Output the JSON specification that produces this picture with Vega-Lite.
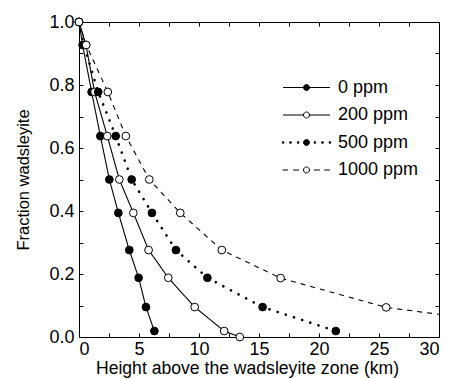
{
  "$schema": "https://vega.github.io/schema/vega-lite/v6.json",
  "width": 360,
  "height": 315,
  "autosize": {"type": "none"},
  "padding": {"left": 79, "top": 22, "right": 10, "bottom": 42},
  "background": "white",
  "config": {
    "view": {"stroke": "black", "strokeWidth": 1},
    "font": "Liberation Sans",
    "axis": {
      "grid": false,
      "domainColor": "black",
      "tickColor": "black",
      "labelColor": "black",
      "titleColor": "black",
      "labelFont": "Liberation Sans",
      "titleFont": "Liberation Sans",
      "labelFontSize": 18,
      "titleFontSize": 17.6,
      "titleFontWeight": "normal",
      "tickSize": -4,
      "tickWidth": 1,
      "domainWidth": 1
    }
  },
  "data": {
    "values": [
      {"series": "0 ppm", "x": 0, "y": 1.0},
      {"series": "0 ppm", "x": 0.3, "y": 0.927},
      {"series": "0 ppm", "x": 1.05, "y": 0.778},
      {"series": "0 ppm", "x": 1.78, "y": 0.638},
      {"series": "0 ppm", "x": 2.53, "y": 0.5},
      {"series": "0 ppm", "x": 3.28, "y": 0.394},
      {"series": "0 ppm", "x": 4.19, "y": 0.276},
      {"series": "0 ppm", "x": 4.97, "y": 0.188},
      {"series": "0 ppm", "x": 5.58, "y": 0.095},
      {"series": "0 ppm", "x": 6.28, "y": 0.019},
      {"series": "200 ppm", "x": 0, "y": 1.0},
      {"series": "200 ppm", "x": 0.58, "y": 0.927},
      {"series": "200 ppm", "x": 1.3, "y": 0.778},
      {"series": "200 ppm", "x": 2.36, "y": 0.638},
      {"series": "200 ppm", "x": 3.36, "y": 0.5},
      {"series": "200 ppm", "x": 4.53, "y": 0.394},
      {"series": "200 ppm", "x": 5.8, "y": 0.276},
      {"series": "200 ppm", "x": 7.44, "y": 0.188},
      {"series": "200 ppm", "x": 9.64, "y": 0.095},
      {"series": "200 ppm", "x": 12.1, "y": 0.019},
      {"series": "200 ppm", "x": 13.4, "y": 0.0},
      {"series": "500 ppm", "x": 0, "y": 1.0},
      {"series": "500 ppm", "x": 0.4, "y": 0.927},
      {"series": "500 ppm", "x": 1.6, "y": 0.778},
      {"series": "500 ppm", "x": 3.06, "y": 0.638},
      {"series": "500 ppm", "x": 4.39, "y": 0.5},
      {"series": "500 ppm", "x": 6.08, "y": 0.394},
      {"series": "500 ppm", "x": 8.08, "y": 0.276},
      {"series": "500 ppm", "x": 10.7, "y": 0.188},
      {"series": "500 ppm", "x": 15.3, "y": 0.095},
      {"series": "500 ppm", "x": 21.4, "y": 0.019},
      {"series": "1000 ppm", "x": 0, "y": 1.0},
      {"series": "1000 ppm", "x": 0.6, "y": 0.927},
      {"series": "1000 ppm", "x": 2.4, "y": 0.778},
      {"series": "1000 ppm", "x": 3.9, "y": 0.638},
      {"series": "1000 ppm", "x": 5.86, "y": 0.5},
      {"series": "1000 ppm", "x": 8.44, "y": 0.394},
      {"series": "1000 ppm", "x": 11.9, "y": 0.276},
      {"series": "1000 ppm", "x": 16.8, "y": 0.187},
      {"series": "1000 ppm", "x": 25.6, "y": 0.094},
      {"series": "1000 ppm", "x": 30, "y": 0.072}
    ]
  },
  "resolve": {"axis": {"x": "independent", "y": "independent"}},
  "layer": [
    {
      "transform": [{"filter": "datum.series !== '500 ppm'"}],
      "mark": {"type": "line", "color": "black", "strokeWidth": 1.1, "interpolate": "linear"},
      "encoding": {
        "x": {
          "field": "x", "type": "quantitative",
          "scale": {"domain": [0, 30], "nice": false, "zero": false},
          "axis": {
            "orient": "bottom",
            "values": [0, 2.5, 5, 7.5, 10, 12.5, 15, 17.5, 20, 22.5, 25, 27.5, 30],
            "labelExpr": "datum.value % 5 === 0 ? format(datum.value, 'd') : ''",
            "labelPadding": 7,
            "title": "Height above the wadsleyite zone (km)",
            "titleX": 168,
            "titleAnchor": "middle",
            "titlePadding": 1
          }
        },
        "y": {
          "field": "y", "type": "quantitative",
          "scale": {"domain": [0, 1], "nice": false},
          "axis": {
            "orient": "left",
            "values": [0, 0.1, 0.2, 0.3, 0.4, 0.5, 0.6, 0.7, 0.8, 0.9, 1.0],
            "labelExpr": "round(datum.value * 10) % 2 === 0 ? format(datum.value, '.1f') : ''",
            "labelPadding": 9,
            "title": "Fraction wadsleyite",
            "titleFontSize": 16.5,
            "titlePadding": 17
          }
        },
        "strokeDash": {
          "field": "series", "type": "nominal",
          "scale": {"domain": ["1000 ppm", "200 ppm", "0 ppm"], "range": [[5, 5], [1, 0], [1, 0]]},
          "legend": null
        }
      }
    },
    {
      "transform": [{"filter": "datum.series === '500 ppm'"}],
      "mark": {"type": "line", "color": "black", "strokeWidth": 2.6, "strokeCap": "round", "strokeDash": [0.1, 8.5], "interpolate": "linear"},
      "encoding": {
        "x": {"field": "x", "type": "quantitative", "axis": null},
        "y": {"field": "y", "type": "quantitative", "axis": null}
      }
    },
    {
      "transform": [{"filter": "datum.x < 30"}],
      "mark": {"type": "point", "shape": "circle", "filled": true, "stroke": "black", "strokeWidth": 1, "size": 60, "opacity": 1},
      "encoding": {
        "x": {
          "field": "x", "type": "quantitative",
          "axis": {
            "orient": "top",
            "values": [0, 2.5, 5, 7.5, 10, 12.5, 15, 17.5, 20, 22.5, 25, 27.5, 30],
            "labels": false,
            "title": null
          }
        },
        "y": {
          "field": "y", "type": "quantitative",
          "axis": {
            "orient": "right",
            "values": [0, 0.1, 0.2, 0.3, 0.4, 0.5, 0.6, 0.7, 0.8, 0.9, 1.0],
            "labels": false,
            "title": null
          }
        },
        "fill": {
          "field": "series", "type": "nominal",
          "scale": {"domain": ["0 ppm", "200 ppm", "500 ppm", "1000 ppm"], "range": ["black", "white", "black", "white"]},
          "legend": {
            "orient": "none",
            "legendX": 217,
            "legendY": 55,
            "title": null,
            "padding": 0,
            "symbolSize": 400,
            "symbolOpacity": 1,
            "symbolStrokeWidth": 1,
            "labelFont": "Liberation Sans",
            "labelFontSize": 18,
            "labelColor": "black",
            "labelOffset": 21,
            "rowPadding": 7.5,
            "encode": {"symbols": {"stroke": {"value": "black"}, "strokeWidth": {"value": 1}}}
          }
        }
      }
    },
    {
      "transform": [{"filter": "false"}],
      "mark": {"type": "point", "stroke": "black"},
      "encoding": {
        "x": {"field": "x", "type": "quantitative", "axis": null},
        "y": {"field": "y", "type": "quantitative", "axis": null},
        "shape": {
          "field": "series", "type": "nominal",
          "scale": {
            "domain": ["0 ppm", "200 ppm", "500 ppm", "1000 ppm"],
            "range": [
              "M-2.35,0H-0.3M0.3,0H2.35M0.3,0A0.3,0.3,0,1,1,-0.3,0A0.3,0.3,0,1,1,0.3,0Z",
              "M-2.35,0H-0.3M0.3,0H2.35M0.3,0A0.3,0.3,0,1,1,-0.3,0A0.3,0.3,0,1,1,0.3,0Z",
              "M-2.41,-0.07h0.14v0.14h-0.14ZM-1.67,-0.07h0.14v0.14h-0.14ZM-0.91,-0.07h0.14v0.14h-0.14ZM0.77,-0.07h0.14v0.14h-0.14ZM1.53,-0.07h0.14v0.14h-0.14ZM2.27,-0.07h0.14v0.14h-0.14ZM0.3,0A0.3,0.3,0,1,1,-0.3,0A0.3,0.3,0,1,1,0.3,0Z",
              "M-2.4,0H-1.84M-1.34,0H-0.74M0.74,0H1.34M1.78,0H2.34M0.3,0A0.3,0.3,0,1,1,-0.3,0A0.3,0.3,0,1,1,0.3,0Z"
            ]
          },
          "legend": {
            "orient": "none",
            "legendX": 217,
            "legendY": 55,
            "title": null,
            "padding": 0,
            "symbolSize": 400,
            "symbolOpacity": 1,
            "symbolStrokeWidth": 1,
            "labelFont": "Liberation Sans",
            "labelFontSize": 18,
            "labelColor": "black",
            "labelOffset": 21,
            "rowPadding": 7.5,
            "encode": {"symbols": {"stroke": {"value": "black"}, "strokeWidth": {"value": 1}}}
          }
        }
      }
    }
  ]
}
